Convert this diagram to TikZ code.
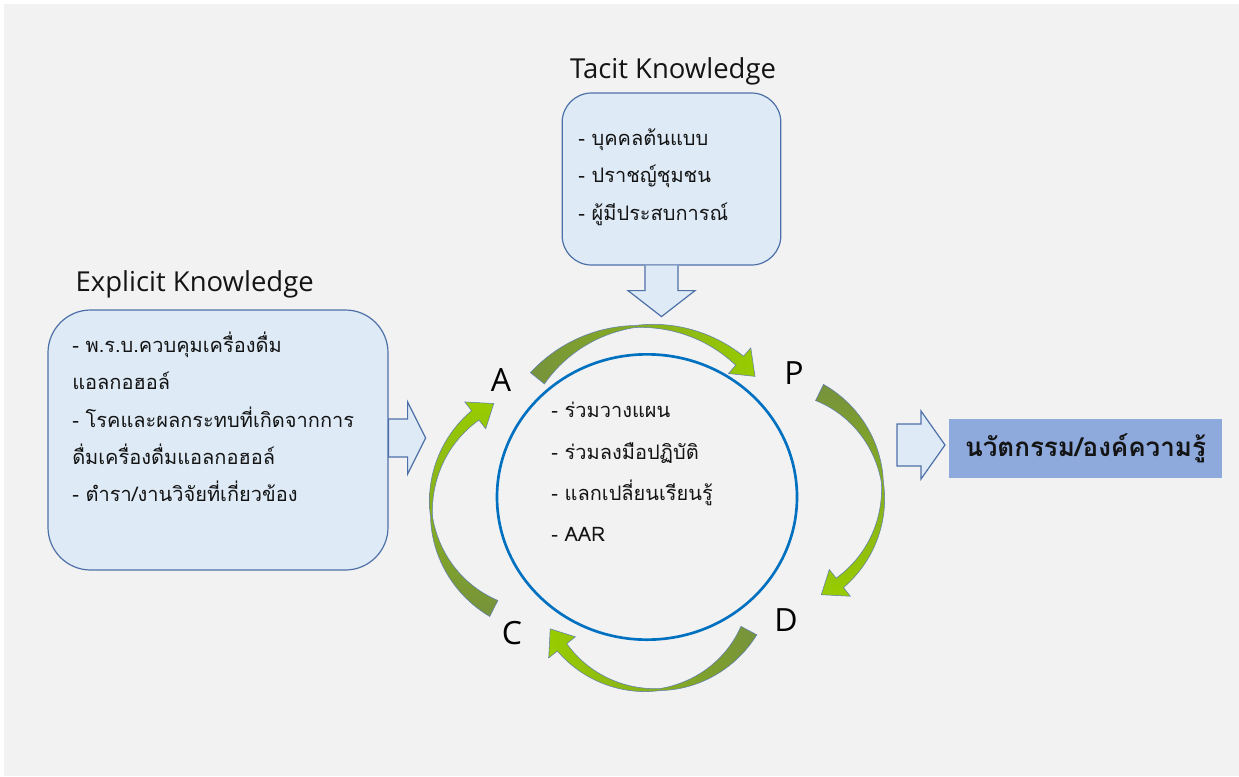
\documentclass[tikz,border=0pt]{standalone}
\usepackage{fontspec}
\setmainfont{Open Sans}
\newfontfamily\thaifont[Script=Thai]{Loma}
\usetikzlibrary{positioning,calc,shapes.geometric}

\definecolor{pagegray}{HTML}{F2F2F2}
\definecolor{kfill}{HTML}{DEEBF7}
\definecolor{kline}{HTML}{4E70A8}
\definecolor{ringblue}{HTML}{0070C0}
\definecolor{cycdark}{HTML}{76923C}
\definecolor{cyclight}{HTML}{99CC00}
\definecolor{outfill}{HTML}{8EA9DB}
\definecolor{txt}{HTML}{141414}

% curved arrow of the cycle: #1,#2 centre, #3 radius, #4 tail angle, #5 tip angle, #6 shading
\newcommand{\cycarrow}[6]{%
  \pgfmathsetmacro\arTail{#4}%
  \pgfmathsetmacro\arBase{#5-22/#3*180/pi}%
  \pgfmathsetmacro\arMid{(\arTail+\arBase)/2}%
  \draw[cycarrow,#6]
    plot[domain=\arTail:\arMid,samples=24] ({#1+(#3+9-8*(\x-\arTail)/(\arMid-\arTail))*cos(\x)},{#2+(#3+9-8*(\x-\arTail)/(\arMid-\arTail))*sin(\x)})
    -- plot[domain=\arMid:\arBase,samples=24] ({#1+(#3+1+5*(\x-\arMid)/(\arBase-\arMid))*cos(\x)},{#2+(#3+1+5*(\x-\arMid)/(\arBase-\arMid))*sin(\x)})
    -- ({#1+(#3+17)*cos(\arBase)},{#2+(#3+17)*sin(\arBase)})
    -- ({#1+#3*cos(#5)},{#2+#3*sin(#5)})
    -- ({#1+(#3-17)*cos(\arBase)},{#2+(#3-17)*sin(\arBase)})
    -- plot[domain=\arBase:\arMid,samples=24] ({#1+(#3-1-5*(\x-\arMid)/(\arBase-\arMid))*cos(\x)},{#2+(#3-1-5*(\x-\arMid)/(\arBase-\arMid))*sin(\x)})
    -- plot[domain=\arMid:\arTail,samples=24] ({#1+(#3-9+8*(\x-\arTail)/(\arMid-\arTail))*cos(\x)},{#2+(#3-9+8*(\x-\arTail)/(\arMid-\arTail))*sin(\x)})
    -- cycle;
}

\begin{document}
\begin{tikzpicture}[x=0.75pt,y=-0.75pt]
  % Settings
  \tikzset{
    kbox/.style={draw=kline, fill=kfill, line width=0.9pt, inner sep=0pt},
    ttl/.style={font=\fontsize{20.6}{24}\selectfont, text=txt},
    items/.style={font=\thaifont\fontsize{15}{28}\selectfont, text=txt, align=left, anchor=west, inner sep=0pt},
    stage/.style={font=\fontsize{24}{28}\selectfont, text=black},
    blockarrow/.style={draw=kline, fill=kfill, line width=0.9pt, line join=miter},
    ring/.style={draw=ringblue, line width=2pt, shape=ellipse, inner sep=0pt},
    cycarrow/.style={draw=kline!90, line width=0.4pt},
  }

  \useasboundingbox (0,0) rectangle (1239,776);
  \fill[pagegray] (4,4) rectangle (1239,776);

  % Tacit knowledge
  \node[ttl] (tacitttl) at (673,71) {Tacit Knowledge};
  \node[kbox, rounded corners=22pt, minimum width=164pt, minimum height=129pt] (tacit) at (671.5,179) {};
  \node[items] (tacittxt) at (578,177) {- บุคคลต้นแบบ\\- ปราชญ์ชุมชน\\- ผู้มีประสบการณ์};

  % Explicit knowledge
  \node[ttl, anchor=west] (explttl) at (71,284) {Explicit Knowledge};
  \node[kbox, rounded corners=32pt, minimum width=255pt, minimum height=195pt] (expl) at (218,440) {};
  \node[items] (expltxt) at (72,417) {- พ.ร.บ.ควบคุมเครื่องดื่ม\\แอลกอฮอล์\\- โรคและผลกระทบที่เกิดจากการ\\ดื่มเครื่องดื่มแอลกอฮอล์\\- ตำรา/งานวิจัยที่เกี่ยวข้อง};

  % Cycle
  \node[ring, minimum width=225pt, minimum height=214pt] (cyc) at (647,497) {};
  \node[items, font=\thaifont\fontsize{15}{31}\selectfont] (cyctxt) at (551,472) {- ร่วมวางแผน\\- ร่วมลงมือปฏิบัติ\\- แลกเปลี่ยนเรียนรู้\\- AAR};

  \node[stage] (sA) at (501,380) {A};
  \node[stage] (sP) at (794,373) {P};
  \node[stage] (sD) at (786,620) {D};
  \node[stage] (sC) at (512,633) {C};

  \cycarrow{647}{467}{141}{219}{320}{left color=cycdark, right color=cyclight}
  \cycarrow{770}{494}{113}{296}{423}{top color=cycdark, bottom color=cyclight}
  \cycarrow{650}{578}{112}{28}{153}{right color=cycdark, left color=cyclight}
  \cycarrow{546}{506}{115}{117}{243}{bottom color=cycdark, top color=cyclight}

  % Result
  \node[fill=outfill, minimum width=205pt, minimum height=44pt, font=\thaifont\bfseries\fontsize{19.5}{22}\selectfont, text=txt] (outbox) at (1085.5,448.5) {นวัตกรรม/องค์ความรู้};
  \coordinate (outtail) at (897,445);

  % Block arrows
  \draw[blockarrow] ($(tacit.south)+(-10,0)$) ++(-16.5,0) -- ++(0,25) -- ++(-17,0) -- ++(33.5,26) -- ++(33.5,-26) -- ++(-17,0) -- ++(0,-25);
  \draw[blockarrow] ($(expl.east)+(0,-2)$) ++(0,-19) -- ++(19,0) -- ++(0,-17) -- ++(18,36) -- ++(-18,36) -- ++(0,-17) -- ++(-19,0) -- cycle;
  \draw[blockarrow] (outtail) ++(0,-21) -- ++(24,0) -- ++(0,-13) -- ++(24,34) -- ++(-24,34) -- ++(0,-13) -- ++(-24,0) -- cycle;

\end{tikzpicture}
\end{document}
